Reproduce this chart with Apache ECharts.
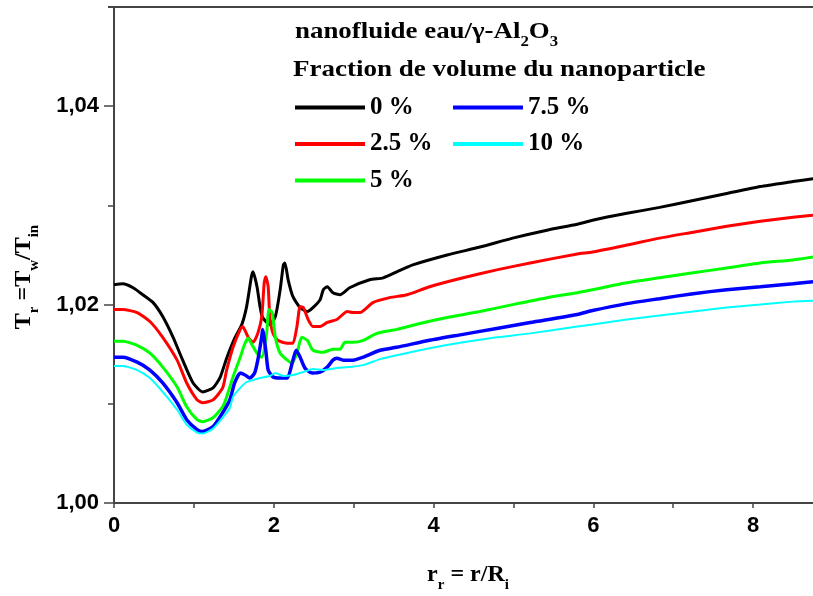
<!DOCTYPE html>
<html>
<head>
<meta charset="utf-8">
<script src="https://cdn.jsdelivr.net/npm/echarts@6/dist/echarts.min.js"></script>
<style>html,body{margin:0;padding:0;background:#fff;}#chart{width:813px;height:596px;}</style>
</head>
<body>
<div id="chart"></div>
<script>
// ---- data ----
var seriesNames = ['0 %', '2.5 %', '5 %', '7.5 %', '10 %'];
var xTickLabels = [0, 2, 4, 6, 8];
var yTickLabels = [1.00, 1.02, 1.04];

var x0 = [0,0.11,0.24,0.36,0.49,0.61,0.74,0.86,0.99,1.11,1.24,1.33,1.41,1.51,1.60,1.66,1.72,1.74,1.79,1.83,1.86,1.95,2.02,2.08,2.12,2.14,2.18,2.24,2.33,2.42,2.49,2.58,2.62,2.67,2.74,2.83,2.95,3.20,3.37,3.54,3.74,4.17,4.58,4.99,5.42,5.80,5.99,6.42,6.83,7.25,7.67,8.09,8.50,8.75];
var y0 = [1.0220,1.0221,1.0217,1.0210,1.0202,1.0188,1.0167,1.0144,1.0121,1.0112,1.0116,1.0127,1.0146,1.0166,1.0180,1.0198,1.0228,1.0233,1.0218,1.0197,1.0187,1.0180,1.0188,1.0215,1.0240,1.0242,1.0225,1.0208,1.0197,1.0193,1.0197,1.0205,1.0215,1.0218,1.0212,1.0210,1.0217,1.0225,1.0227,1.0233,1.0240,1.0250,1.0258,1.0267,1.0275,1.0281,1.0285,1.0292,1.0298,1.0305,1.0312,1.0319,1.0324,1.0327];

var x25 = [0,0.11,0.29,0.45,0.61,0.79,0.91,1.04,1.11,1.24,1.36,1.41,1.49,1.58,1.61,1.68,1.74,1.80,1.85,1.88,1.90,1.93,1.95,1.99,2.05,2.17,2.24,2.29,2.33,2.37,2.43,2.49,2.58,2.67,2.79,2.92,2.99,3.08,3.24,3.45,3.67,3.95,4.37,4.79,5.21,5.80,5.99,6.42,6.83,7.25,7.67,8.09,8.50,8.75];
var y25 = [1.0195,1.0195,1.0192,1.0183,1.0167,1.0144,1.0121,1.0104,1.0101,1.0104,1.0116,1.0134,1.0157,1.0175,1.0178,1.0167,1.0162,1.0171,1.0188,1.0222,1.0228,1.0218,1.0188,1.0171,1.0164,1.0161,1.0161,1.0178,1.0198,1.0197,1.0185,1.0178,1.0178,1.0182,1.0185,1.0193,1.0192,1.0192,1.0202,1.0207,1.0210,1.0218,1.0227,1.0235,1.0242,1.0251,1.0253,1.0260,1.0267,1.0273,1.0279,1.0284,1.0288,1.0290];

var x5 = [0,0.11,0.29,0.45,0.61,0.79,0.91,1.04,1.11,1.24,1.36,1.41,1.49,1.58,1.64,1.68,1.73,1.79,1.85,1.91,1.94,1.98,2.02,2.08,2.17,2.23,2.29,2.35,2.42,2.49,2.62,2.74,2.83,2.89,2.99,3.12,3.29,3.54,3.83,4.17,4.58,4.99,5.42,5.80,5.99,6.42,6.83,7.25,7.67,8.09,8.50,8.75];
var y5 = [1.0163,1.0163,1.0159,1.0151,1.0137,1.0117,1.0097,1.0084,1.0082,1.0086,1.0097,1.0107,1.0127,1.0147,1.0161,1.0166,1.0159,1.0151,1.0147,1.0171,1.0195,1.0192,1.0167,1.0151,1.0144,1.0141,1.0151,1.0167,1.0164,1.0154,1.0152,1.0155,1.0155,1.0162,1.0162,1.0164,1.0171,1.0175,1.0181,1.0187,1.0193,1.0200,1.0207,1.0212,1.0215,1.0222,1.0227,1.0232,1.0237,1.0242,1.0245,1.0248];

var x75 = [0,0.11,0.29,0.45,0.61,0.79,0.91,1.04,1.11,1.24,1.36,1.45,1.51,1.58,1.64,1.70,1.76,1.80,1.85,1.86,1.90,1.93,1.99,2.08,2.17,2.23,2.28,2.33,2.39,2.48,2.58,2.67,2.74,2.79,2.87,2.99,3.12,3.33,3.54,3.95,4.37,4.79,5.21,5.80,5.99,6.42,6.83,7.25,7.67,8.09,8.50,8.75];
var y75 = [1.0147,1.0147,1.0142,1.0134,1.0121,1.0101,1.0084,1.0074,1.0072,1.0077,1.0091,1.0104,1.0121,1.0131,1.0129,1.0126,1.0131,1.0144,1.0168,1.0175,1.0154,1.0134,1.0127,1.0126,1.0126,1.0141,1.0154,1.0147,1.0136,1.0131,1.0132,1.0137,1.0144,1.0146,1.0144,1.0144,1.0147,1.0154,1.0157,1.0164,1.0170,1.0176,1.0182,1.0190,1.0194,1.0201,1.0206,1.0211,1.0215,1.0218,1.0221,1.0223];

var x10 = [0,0.11,0.29,0.45,0.61,0.79,0.91,1.04,1.11,1.24,1.36,1.45,1.49,1.58,1.66,1.74,1.83,1.95,2.02,2.12,2.24,2.37,2.49,2.62,2.79,2.93,3.12,3.33,3.54,3.95,4.37,4.79,5.21,5.80,5.99,6.42,6.83,7.25,7.67,8.09,8.50,8.75];
var y10 = [1.0138,1.0138,1.0134,1.0126,1.0112,1.0094,1.0079,1.0071,1.0070,1.0075,1.0086,1.0096,1.0107,1.0116,1.0122,1.0124,1.0126,1.0128,1.0131,1.0128,1.0129,1.0132,1.0135,1.0134,1.0136,1.0137,1.0139,1.0145,1.0149,1.0156,1.0162,1.0167,1.0171,1.0178,1.0180,1.0185,1.0189,1.0193,1.0197,1.0200,1.0203,1.0204];

var seriesX = [x0, x25, x5, x75, x10];
var seriesY = [y0, y25, y5, y75, y10];
var colors = ['#000000', '#ff0000', '#00ff00', '#0000ff', '#00ffff'];
var widths = [3, 3, 3, 3.5, 2];

function pairs(xs, ys) { return xs.map(function (x, i) { return [x, ys[i]]; }); }

var serif = "'Liberation Serif', 'Times New Roman', serif";
var sans = "'Liberation Sans', Arial, sans-serif";

var chart = echarts.init(document.getElementById('chart'), null, { renderer: 'canvas' });

var series = seriesNames.map(function (n, i) {
  return {
    name: n, type: 'line', xAxisIndex: 0, yAxisIndex: 0,
    data: pairs(seriesX[i], seriesY[i]),
    showSymbol: false, symbol: 'none',
    smooth: 0.2,
    lineStyle: { color: colors[i], width: widths[i] },
    itemStyle: { color: colors[i] },
    animation: false
  };
});

var axisLineStyle = { color: '#444', width: 2 };
var subRich = {
  b: { fontFamily: serif, fontWeight: 'bold', fontSize: 24, color: '#000', lineHeight: 36 },
  s: { fontFamily: serif, fontWeight: 'bold', fontSize: 15, color: '#000', lineHeight: 6, verticalAlign: 'bottom' }
};

var option = {
  animation: false,
  backgroundColor: '#fff',
  grid: { left: 114, right: 0, top: 7, bottom: 93, containLabel: false },
  xAxis: [{
    type: 'value', min: 0, max: 8.75, position: 'bottom',
    axisLine: { show: true, lineStyle: axisLineStyle },
    axisTick: { show: true, length: 5, inside: false, lineStyle: { color: '#444', width: 1.5 }, customValues: [0,1,2,3,4,5,6,7,8] },
    axisLabel: { show: true, margin: 12, fontFamily: sans, fontWeight: 'bold', fontSize: 22, color: '#000', customValues: xTickLabels },
    splitLine: { show: false }
  }, {
    type: 'value', min: 0, max: 8.75, position: 'top',
    axisLine: { show: true, lineStyle: axisLineStyle },
    axisTick: { show: false }, axisLabel: { show: false }, splitLine: { show: false }
  }],
  yAxis: [{
    type: 'value', min: 1.0, max: 1.05, position: 'left',
    axisLine: { show: true, lineStyle: axisLineStyle },
    axisTick: { show: true, length: 10, inside: false, lineStyle: { color: '#444', width: 1.5 }, customValues: yTickLabels },
    axisLabel: { show: true, margin: 15, fontFamily: sans, fontWeight: 'bold', fontSize: 22, color: '#000', customValues: yTickLabels,
      formatter: function (v) { return v.toFixed(2).replace('.', ','); } },
    splitLine: { show: false }
  }, {
    type: 'value', min: 1.0, max: 1.05, position: 'left',
    axisLine: { show: false },
    axisTick: { show: true, length: 6, inside: false, lineStyle: { color: '#444', width: 1.5 }, customValues: [1.01, 1.03] },
    axisLabel: { show: false }, splitLine: { show: false }
  }],
  legend: [{
    data: ['0 %', '2.5 %', '5 %'], orient: 'vertical', left: 295, top: 95, padding: 0,
    icon: 'rect', itemWidth: 70, itemHeight: 4, itemGap: 11.5,
    textStyle: { fontFamily: serif, fontWeight: 'bold', fontSize: 25, color: '#000', lineHeight: 24 }
  }, {
    data: ['7.5 %', '10 %'], orient: 'vertical', left: 453, top: 95, padding: 0,
    icon: 'rect', itemWidth: 70, itemHeight: 4, itemGap: 11.5,
    textStyle: { fontFamily: serif, fontWeight: 'bold', fontSize: 25, color: '#000', lineHeight: 24 }
  }],
  graphic: [{
    type: 'line', silent: true,
    shape: { x1: 108, y1: 7, x2: 813, y2: 7 },
    style: { stroke: '#444', lineWidth: 2 }
  }, {
    type: 'text', x: 295, y: 32, scaleX: 1.12,
    style: { text: '{b|nanofluide eau/γ-Al}{s|2}{b|O}{s|3}', rich: subRich, align: 'left', verticalAlign: 'middle' }
  }, {
    type: 'text', x: 293, y: 70, scaleX: 1.125,
    style: { text: 'Fraction de volume du nanoparticle', fontFamily: serif, fontWeight: 'bold', fontSize: 24, fill: '#000', align: 'left', verticalAlign: 'middle' }
  }, {
    type: 'text', x: 468, y: 575,
    style: { text: '{b|r}{s|r}{b| = r/R}{s|i}', rich: subRich, align: 'center', verticalAlign: 'middle' }
  }, {
    type: 'text', x: 24, y: 277, rotation: Math.PI / 2,
    style: { text: '{b|T}{s|r}{b| =T}{s|w}{b|/T}{s|in}', rich: subRich, align: 'center', verticalAlign: 'middle' }
  }],
  series: series
};
chart.setOption(option);
</script>
</body>
</html>
